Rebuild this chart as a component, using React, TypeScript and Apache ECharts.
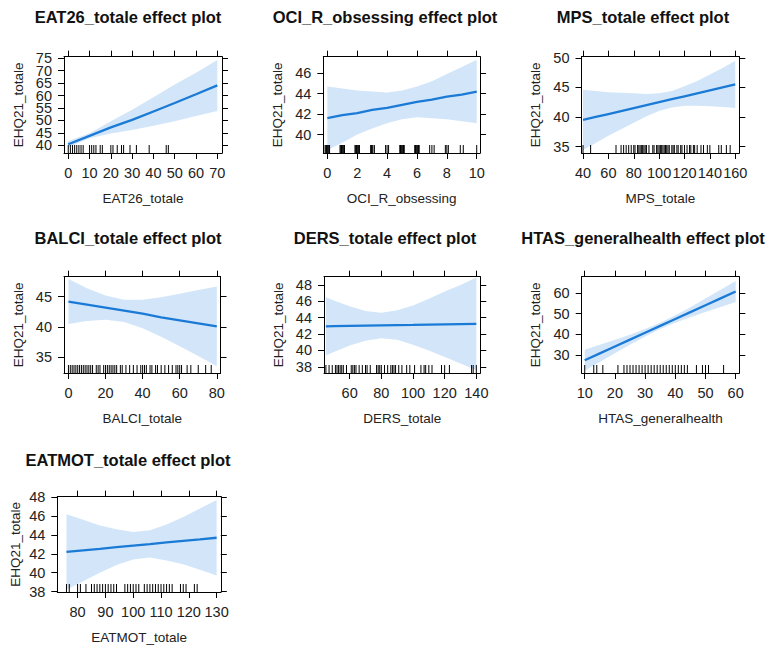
import React, { useEffect, useRef } from 'react';
import * as echarts from 'echarts';

// ---------- DATA ----------
// EAT26_totale
const eatX = [0, 10, 20, 30, 40, 50, 60, 70];
const eatFit = [40.4, 43.8, 47.2, 50.2, 53.6, 57.0, 60.5, 64.1];
const eatLower = [39.1, 42.8, 44.7, 46.1, 47.9, 49.7, 51.8, 53.8];
const eatUpper = [41.7, 44.8, 49.7, 54.3, 59.3, 64.4, 69.2, 74.3];
const eatRug = [0, 1, 2, 3, 4, 5, 6, 7, 10, 11, 12, 13, 15, 16, 20, 21, 23, 25, 26, 29, 32, 38, 46, 47];
const eatXTicks = [0, 10, 20, 30, 40, 50, 60, 70];
const eatYTicks = [40, 45, 50, 55, 60, 65, 70, 75];

// OCI_R_obsessing
const ociX = [0, 1, 2, 3, 4, 5, 6, 7, 8, 9, 10];
const ociFit = [41.6, 41.9, 42.1, 42.4, 42.6, 42.9, 43.2, 43.4, 43.7, 43.9, 44.2];
const ociLower = [38.5, 39.2, 40.0, 40.6, 41.1, 41.5, 41.7, 41.6, 41.5, 41.3, 41.1];
const ociUpper = [44.7, 44.5, 44.3, 44.2, 44.1, 44.3, 44.7, 45.2, 45.9, 46.6, 47.3];
const ociRug = [
  -0.15, -0.1, -0.05, 0, 0.05, 0.1, 0.15,
  0.85, 0.9, 0.95, 1, 1.05, 1.1, 1.15,
  1.85, 1.9, 1.95, 2, 2.05, 2.1, 2.15,
  2.9, 2.95, 3, 3.05, 3.15,
  3.9, 4.0, 4.1,
  4.85, 4.9, 4.95, 5, 5.05, 5.1, 5.15,
  5.85, 5.9, 5.95, 6, 6.05, 6.1, 6.15,
  6.85, 7.0, 7.15,
  7.9, 8.0, 8.1,
  8.9, 9.1,
  10.0,
];
const ociXTicks = [0, 2, 4, 6, 8, 10];
const ociYTicks = [40, 42, 44, 46];

// MPS_totale
const mpsX = [40, 50, 60, 70, 80, 90, 100, 110, 120, 130, 140, 150, 160];
const mpsFit = [39.5, 40.0, 40.5, 41.0, 41.5, 42.0, 42.5, 43.0, 43.5, 44.0, 44.5, 45.0, 45.5];
const mpsLower = [34.4, 35.6, 36.8, 37.9, 39.0, 40.1, 41.0, 41.6, 41.9, 41.9, 41.8, 41.7, 41.5];
const mpsUpper = [44.6, 44.4, 44.2, 44.1, 44.0, 43.9, 44.0, 44.4, 45.2, 46.1, 47.2, 48.3, 49.5];
const mpsRug = [40, 46, 66, 70, 72, 74, 76, 78, 80, 81, 83, 84, 85, 86, 87, 88, 89, 90, 92, 95, 96, 98, 99, 100,
  101, 102, 103, 104, 105, 106, 107, 108, 110, 111, 112, 114, 115, 117, 118, 120, 122, 124, 125, 127, 128, 130,
  133, 135, 138, 140, 147, 149, 153, 156];
const mpsXTicks = [40, 60, 80, 100, 120, 140, 160];
const mpsYTicks = [35, 40, 45, 50];

// BALCI_totale
const balX = [0, 10, 20, 30, 40, 50, 60, 70, 80];
const balFit = [44.2, 43.7, 43.2, 42.7, 42.2, 41.6, 41.1, 40.6, 40.1];
const balLower = [40.5, 41.0, 41.2, 40.8, 39.8, 38.4, 36.8, 35.2, 33.5];
const balUpper = [47.9, 46.4, 45.2, 44.5, 44.5, 44.9, 45.5, 46.1, 46.7];
const balRug = [0, 1, 2, 3, 4, 5, 6, 7, 8, 9, 10, 11, 12, 13, 15, 16, 17, 19, 20, 21, 22, 23, 24, 25, 26, 28, 29,
  31, 33, 35, 37, 39, 40, 41, 42, 44, 45, 47, 48, 50, 52, 54, 56, 58, 59, 60, 61, 64, 66, 70, 74, 77];
const balXTicks = [0, 20, 40, 60, 80];
const balYTicks = [35, 40, 45];

// DERS_totale
const dersX = [45, 50, 60, 70, 80, 90, 100, 110, 120, 130, 140];
const dersFit = [42.95, 42.97, 43.0, 43.03, 43.06, 43.09, 43.12, 43.16, 43.19, 43.22, 43.25];
const dersLower = [39.4, 39.8, 40.6, 41.2, 41.5, 41.3, 40.7, 40.0, 39.2, 38.4, 37.6];
const dersUpper = [46.5, 46.1, 45.4, 44.8, 44.6, 44.9, 45.5, 46.3, 47.2, 48.0, 48.9];
const dersRug = [45, 47, 49, 51, 52, 53, 54, 55, 56, 58, 61, 62, 63, 64, 66, 68, 70, 71, 73, 77, 78, 79, 80, 82,
  84, 86, 87, 88, 89, 91, 93, 96, 98, 101, 105, 107, 108, 110, 112, 118, 120, 123, 137, 138, 140];
const dersXTicks = [60, 80, 100, 120, 140];
const dersYTicks = [38, 40, 42, 44, 46, 48];

// HTAS_generalhealth
const htasX = [10, 15, 20, 25, 30, 35, 40, 45, 50, 55, 60];
const htasFit = [27.6, 30.9, 34.2, 37.5, 40.8, 44.1, 47.4, 50.7, 54.0, 57.3, 60.6];
const htasLower = [22.6, 26.8, 31.0, 35.1, 39.0, 42.6, 45.6, 48.3, 50.8, 53.2, 55.6];
const htasUpper = [32.6, 35.0, 37.4, 39.9, 42.6, 45.6, 49.2, 53.1, 57.2, 61.4, 65.6];
const htasRug = [10, 13, 14, 16, 21, 23, 24, 25, 26, 27, 28, 29, 30, 31, 32, 33, 34, 35, 36, 37, 38, 39, 40, 41,
  42, 43, 44, 47, 49, 50, 51, 56];
const htasXTicks = [10, 20, 30, 40, 50, 60];
const htasYTicks = [30, 40, 50, 60];

// EATMOT_totale
const motX = [76, 82, 88, 94, 100, 106, 112, 118, 124, 130];
const motFit = [42.2, 42.37, 42.53, 42.7, 42.87, 43.03, 43.2, 43.37, 43.53, 43.7];
const motLower = [38.2, 39.1, 40.0, 40.8, 41.4, 41.6, 41.3, 40.9, 40.3, 39.7];
const motUpper = [46.2, 45.6, 45.0, 44.6, 44.3, 44.5, 45.1, 45.9, 46.8, 47.7];
const motRug = [76, 77, 80, 81, 83, 85, 86, 87, 88, 89, 90, 91, 92, 93, 94, 97, 98, 99, 100, 101, 102, 104, 105,
  106, 107, 108, 109, 110, 111, 112, 113, 114, 117, 118, 119, 122, 123];
const motXTicks = [80, 90, 100, 110, 120, 130];
const motYTicks = [38, 40, 42, 44, 46, 48];

const yName = 'EHQ21_totale';

// ---------- LAYOUT ----------
const panelsData = [
  { title: 'EAT26_totale effect plot', xName: 'EAT26_totale', x: eatX, fit: eatFit, lower: eatLower, upper: eatUpper, rug: eatRug, xTicks: eatXTicks, yTicks: eatYTicks },
  { title: 'OCI_R_obsessing effect plot', xName: 'OCI_R_obsessing', x: ociX, fit: ociFit, lower: ociLower, upper: ociUpper, rug: ociRug, xTicks: ociXTicks, yTicks: ociYTicks },
  { title: 'MPS_totale effect plot', xName: 'MPS_totale', x: mpsX, fit: mpsFit, lower: mpsLower, upper: mpsUpper, rug: mpsRug, xTicks: mpsXTicks, yTicks: mpsYTicks },
  { title: 'BALCI_totale effect plot', xName: 'BALCI_totale', x: balX, fit: balFit, lower: balLower, upper: balUpper, rug: balRug, xTicks: balXTicks, yTicks: balYTicks },
  { title: 'DERS_totale effect plot', xName: 'DERS_totale', x: dersX, fit: dersFit, lower: dersLower, upper: dersUpper, rug: dersRug, xTicks: dersXTicks, yTicks: dersYTicks },
  { title: 'HTAS_generalhealth effect plot', xName: 'HTAS_generalhealth', x: htasX, fit: htasFit, lower: htasLower, upper: htasUpper, rug: htasRug, xTicks: htasXTicks, yTicks: htasYTicks },
  { title: 'EATMOT_totale effect plot', xName: 'EATMOT_totale', x: motX, fit: motFit, lower: motLower, upper: motUpper, rug: motRug, xTicks: motXTicks, yTicks: motYTicks },
];

const boxes = [
  { left: 64, top: 56.7, width: 158, height: 96.3 },
  { left: 323.3, top: 56.7, width: 156.7, height: 96.3 },
  { left: 581.5, top: 56.7, width: 157.8, height: 96.3 },
  { left: 64, top: 276.7, width: 156.5, height: 96.3 },
  { left: 324, top: 276.7, width: 156.3, height: 96.3 },
  { left: 581.7, top: 276.7, width: 157.6, height: 96.3 },
  { left: 57.3, top: 496.7, width: 163.5, height: 95.3 },
];
const xRanges = [[-2, 72.2], [-0.27, 10.22], [38.8, 163.2], [-2.4, 82], [43.8, 142.5], [9.0, 61.2], [72.7, 131.5]];
const yRanges = [[36.9, 75.6], [38.2, 47.6], [33.9, 50.2], [32.4, 48.3], [37.25, 49.0], [21.5, 67.7], [37.95, 48.05]];
const titleCenters = [128, 385, 643, 128, 385, 643, 128];
const titleTops = [8, 8, 8, 229, 229, 229, 451];
const yNameGaps = [38.5, 38.5, 39.5, 38.5, 39, 39.5, 35];

const FONT = '"Liberation Sans", Arial, Helvetica, sans-serif';
const TEXT = '#222';
const BAND = '#d3e6f9';
const LINE = '#1a7ad6';

function buildOption() {
  const grid: any[] = [];
  const xAxis: any[] = [];
  const yAxis: any[] = [];
  const series: any[] = [];
  const title: any[] = [];

  panelsData.forEach((p, i) => {
    const b = boxes[i];
    grid.push({ left: b.left, top: b.top, width: b.width, height: b.height, containLabel: false, outerBoundsMode: 'none' });
    const axisLine = { show: true, onZero: false, lineStyle: { color: '#000', width: 1 } };
    const tick = (vals: number[]) => ({ show: true, inside: false, length: 6, customValues: vals, lineStyle: { color: '#000', width: 1 } });
    const [xMin, xMax] = xRanges[i];
    const [yMin, yMax] = yRanges[i];
    const labelStyle = { margin: 12, fontSize: 14.5, color: TEXT, fontFamily: FONT, hideOverlap: false };
    xAxis.push({
      type: 'value', gridIndex: i, position: 'bottom', min: xMin, max: xMax,
      splitLine: { show: false }, axisLine, axisTick: tick(p.xTicks),
      axisLabel: { ...labelStyle, customValues: p.xTicks, showMinLabel: true, showMaxLabel: true },
      name: p.xName, nameLocation: 'middle', nameGap: 38,
      nameTextStyle: { fontSize: 13.5, color: TEXT, fontFamily: FONT },
    });
    xAxis.push({
      type: 'value', gridIndex: i, position: 'top', min: xMin, max: xMax,
      splitLine: { show: false }, axisLine, axisTick: tick(p.xTicks), axisLabel: { show: false },
    });
    // left labels split over two coincident axes so that tight labels are all kept
    const evenTicks = p.yTicks.filter((_, k) => k % 2 === 0);
    const oddTicks = p.yTicks.filter((_, k) => k % 2 === 1);
    yAxis.push({
      type: 'value', gridIndex: i, position: 'left', offset: 0, min: yMin, max: yMax,
      splitLine: { show: false }, axisLine, axisTick: tick(p.yTicks),
      axisLabel: { ...labelStyle, customValues: evenTicks, showMinLabel: true, showMaxLabel: true },
      name: yName, nameLocation: 'middle', nameGap: yNameGaps[i],
      nameTextStyle: { fontSize: 13.5, color: TEXT, fontFamily: FONT },
    });
    yAxis.push({
      type: 'value', gridIndex: i, position: 'left', offset: 0, min: yMin, max: yMax,
      splitLine: { show: false }, axisLine: { show: false, onZero: false }, axisTick: { show: false },
      axisLabel: { ...labelStyle, customValues: oddTicks, showMinLabel: true, showMaxLabel: true },
    });
    yAxis.push({
      type: 'value', gridIndex: i, position: 'right', min: yMin, max: yMax,
      splitLine: { show: false }, axisLine, axisTick: tick(p.yTicks), axisLabel: { show: false },
    });
    const xi = i * 2;
    const yi = i * 3;
    // confidence band
    series.push({
      type: 'custom', xAxisIndex: xi, yAxisIndex: yi, clip: true, silent: true, z: 1,
      data: p.x.map((v, k) => [v, p.lower[k], p.upper[k]]),
      encode: { x: 0, y: [1, 2] },
      renderItem: (params: any, api: any) => {
        if (params.dataIndex !== 0) return null;
        const top = p.x.map((v, k) => api.coord([v, p.upper[k]]));
        const bot = p.x.map((v, k) => api.coord([v, p.lower[k]])).reverse();
        return { type: 'polygon', shape: { points: top.concat(bot) }, style: { fill: BAND, stroke: null } };
      },
    });
    // fitted line
    series.push({
      type: 'line', xAxisIndex: xi, yAxisIndex: yi, z: 3,
      data: p.x.map((v, k) => [v, p.fit[k]]),
      showSymbol: false, symbol: 'none', silent: true,
      lineStyle: { color: LINE, width: 2.3 },
    });
    // rug
    series.push({
      type: 'custom', xAxisIndex: xi, yAxisIndex: yi, clip: true, silent: true, z: 4,
      data: p.rug.map((v) => [v, yMin]),
      encode: { x: 0, y: 1 },
      renderItem: (params: any, api: any) => {
        const pt = api.coord([api.value(0), yMin]);
        return { type: 'line', shape: { x1: pt[0], y1: pt[1], x2: pt[0], y2: pt[1] - 8 }, style: { stroke: '#000', lineWidth: 1 } };
      },
    });
    title.push({
      text: p.title, left: titleCenters[i], top: titleTops[i], textAlign: 'center', padding: 0,
      textStyle: { fontSize: 16.5, fontWeight: 'bold', color: '#111', fontFamily: FONT },
    });
  });

  return {
    animation: false,
    backgroundColor: '#fff',
    textStyle: { fontFamily: FONT },
    title, grid, xAxis, yAxis, series,
  };
}

export default function App() {
  const ref = useRef<HTMLDivElement>(null);
  useEffect(() => {
    if (!ref.current) return;
    const chart = echarts.init(ref.current, null, { renderer: 'svg' });
    chart.setOption(buildOption() as any);
    return () => chart.dispose();
  }, []);
  return <div ref={ref} style={{ position: 'absolute', left: 0, top: 0, width: 770, height: 648 }} />;
}
